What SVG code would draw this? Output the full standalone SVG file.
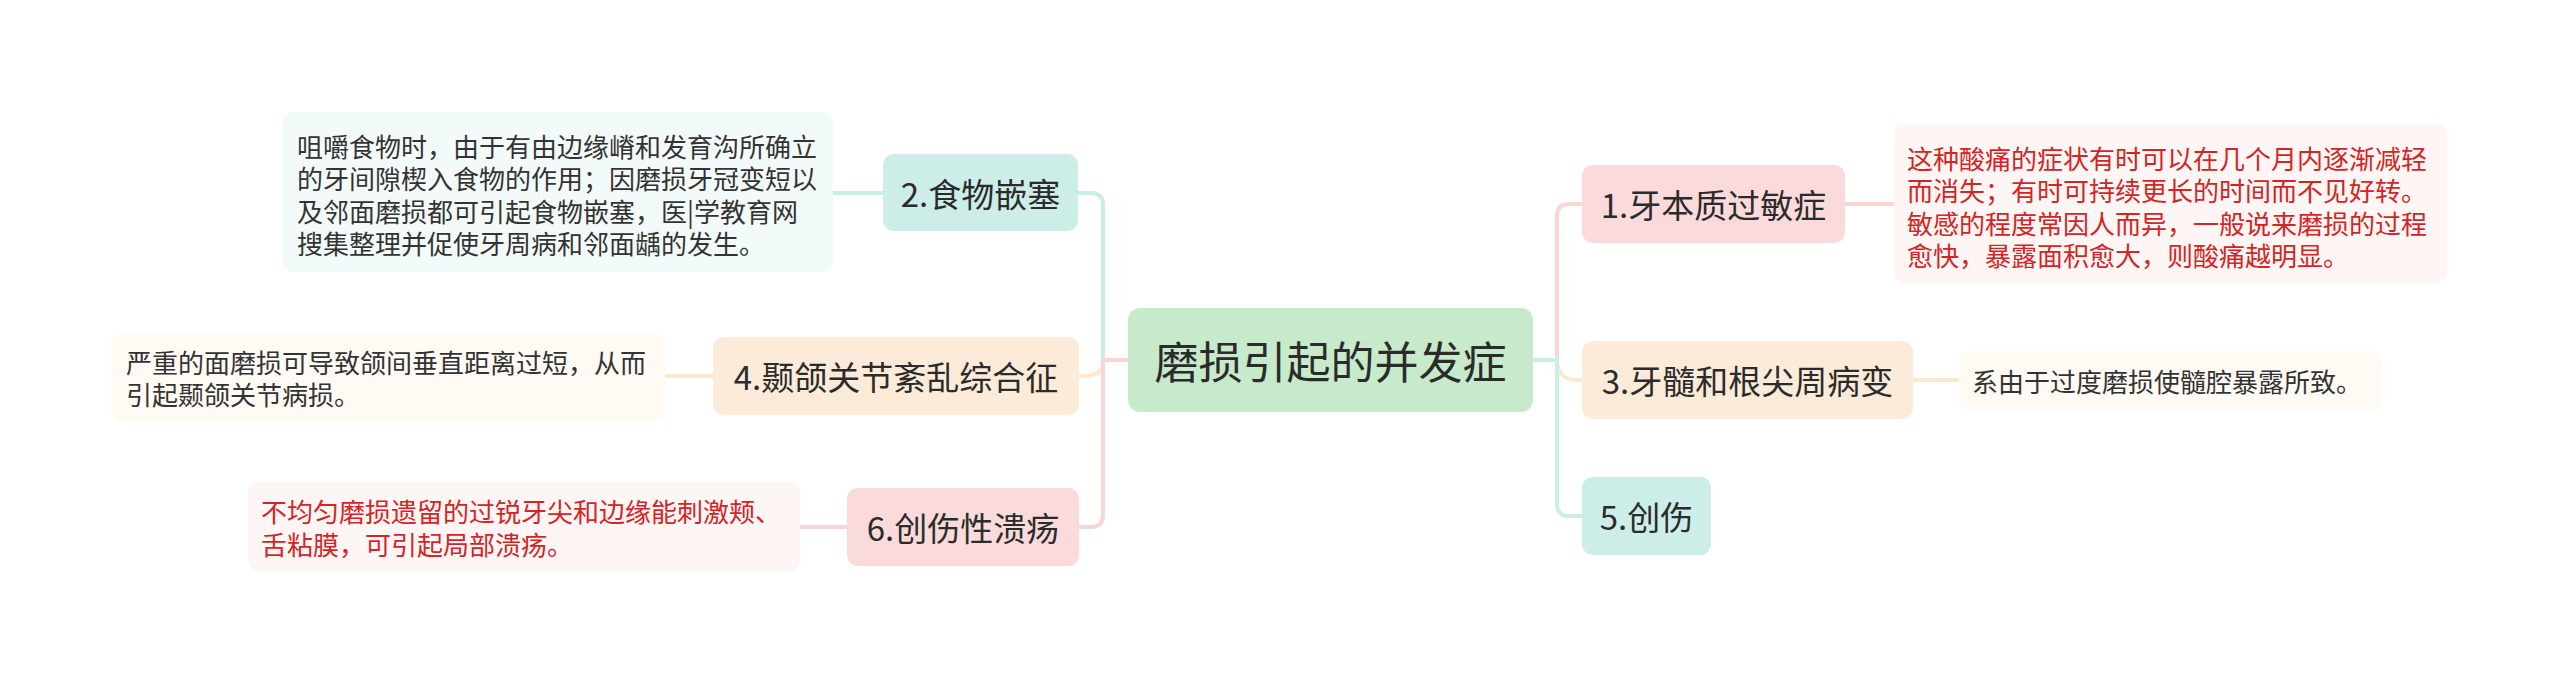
<svg xmlns="http://www.w3.org/2000/svg" width="2560" height="687" viewBox="0 0 2560 687">
<style>
text{font-family:"Microsoft YaHei","Noto Sans CJK SC","Noto Sans",sans-serif;dominant-baseline:central}
.lbl{font-size:33px;fill:#2b2b2b;text-anchor:middle}
.root{font-size:44px;fill:#2b2b2b;text-anchor:middle}
.d{font-size:26px;fill:#333}
.dr{font-size:26px;fill:#d42424}
.c{fill:none;stroke-width:4;stroke-linecap:round}
.teal{stroke:#c9ede7}.peach{stroke:#fde7d1}.pink{stroke:#f9d6d6}
.fg{fill:#c6eaca}.ft{fill:#cdeee8}.fp{fill:#fdebd9}.fk{fill:#fadadb}
.bt{fill:#f3fbfa}.bp{fill:#fffaf4}.bk{fill:#fef5f5}
</style>
<rect width="2560" height="687" fill="#ffffff"/>
<g id="connectors">
<path class="c teal" d="M1128,360 H1103 V205 Q1103,193 1091,193 H1078"/>
<path class="c peach" d="M1103,360 C1103,372 1096,376 1084,376 H1078"/>
<path class="c pink" d="M1128,360 H1103 V515 Q1103,527 1091,527 H1078"/>
<path class="c pink" d="M1533,360 H1557 V216 Q1557,204 1569,204 H1582"/>
<path class="c peach" d="M1557,360 C1557,372 1564,380 1576,380 H1582"/>
<path class="c teal" d="M1533,360 H1557 V504 Q1557,516 1569,516 H1582"/>
<path class="c teal" d="M883,193 H833"/>
<path class="c peach" d="M713,376 H665"/>
<path class="c pink" d="M847,527 H800"/>
<path class="c pink" d="M1845,204 H1894"/>
<path class="c peach" d="M1913,380 H1959"/>
</g>
<g id="root">
<rect class="fg" x="1128" y="308" width="405" height="104" rx="12"/>
<text class="root" x="1330.5" y="360">磨损引起的并发症</text>
</g>
<g id="n2">
<rect class="ft" x="883" y="154" width="195" height="77" rx="11"/>
<text class="lbl" x="980.5" y="192.5">2.食物嵌塞</text>
</g>
<g id="d2">
<rect class="bt" x="282" y="112" width="551" height="160" rx="11"/>
<text class="d" x="297" y="145">咀嚼食物时，由于有由边缘嵴和发育沟所确立</text>
<text class="d" x="297" y="177.5">的牙间隙楔入食物的作用；因磨损牙冠变短以</text>
<text class="d" x="297" y="210">及邻面磨损都可引起食物嵌塞，医|学教育网</text>
<text class="d" x="297" y="242.5">搜集整理并促使牙周病和邻面龋的发生。</text>
</g>
<g id="n4">
<rect class="fp" x="713" y="337" width="366" height="78" rx="11"/>
<text class="lbl" x="896" y="376">4.颞颌关节紊乱综合征</text>
</g>
<g id="d4">
<rect class="bp" x="111" y="333" width="554" height="88" rx="11"/>
<text class="d" x="126" y="361">严重的面磨损可导致颌间垂直距离过短，从而</text>
<text class="d" x="126" y="393.5">引起颞颌关节病损。</text>
</g>
<g id="n6">
<rect class="fk" x="847" y="488" width="232" height="78" rx="11"/>
<text class="lbl" x="963" y="527">6.创伤性溃疡</text>
</g>
<g id="d6">
<rect class="bk" x="248" y="482" width="552" height="89" rx="11"/>
<text class="dr" x="261" y="510.5">不均匀磨损遗留的过锐牙尖和边缘能刺激颊、</text>
<text class="dr" x="261" y="543">舌粘膜，可引起局部溃疡。</text>
</g>
<g id="n1">
<rect class="fk" x="1582" y="165" width="263" height="78" rx="11"/>
<text class="lbl" x="1713.5" y="204">1.牙本质过敏症</text>
</g>
<g id="d1">
<rect class="bk" x="1894" y="124" width="553" height="159" rx="11"/>
<text class="dr" x="1907" y="157">这种酸痛的症状有时可以在几个月内逐渐减轻</text>
<text class="dr" x="1907" y="189.5">而消失；有时可持续更长的时间而不见好转。</text>
<text class="dr" x="1907" y="222">敏感的程度常因人而异，一般说来磨损的过程</text>
<text class="dr" x="1907" y="254.5">愈快，暴露面积愈大，则酸痛越明显。</text>
</g>
<g id="n3">
<rect class="fp" x="1582" y="341" width="331" height="78" rx="11"/>
<text class="lbl" x="1747.5" y="380">3.牙髓和根尖周病变</text>
</g>
<g id="d3">
<rect class="bp" x="1959" y="351" width="423" height="59" rx="11"/>
<text class="d" x="1972" y="380.5">系由于过度磨损使髓腔暴露所致。</text>
</g>
<g id="n5">
<rect class="ft" x="1582" y="477" width="129" height="78" rx="11"/>
<text class="lbl" x="1646.5" y="516">5.创伤</text>
</g>
</svg>
